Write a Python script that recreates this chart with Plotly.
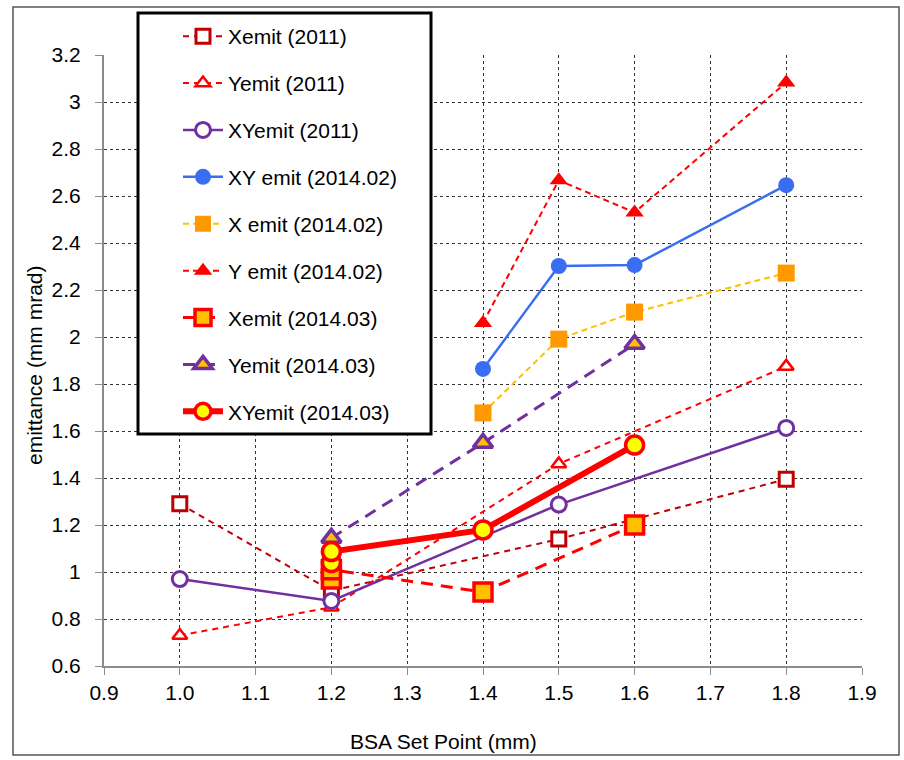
import plotly.graph_objects as go

# ---------------- data ----------------
x_xemit_2011 = [1.0, 1.2, 1.5, 1.8]
y_xemit_2011 = [1.29, 0.92, 1.14, 1.395]

x_yemit_2011 = [1.0, 1.2, 1.5, 1.8]
y_yemit_2011 = [0.73, 0.85, 1.46, 1.875]

x_xyemit_2011 = [1.0, 1.2, 1.5, 1.8]
y_xyemit_2011 = [0.97, 0.877, 1.287, 1.613]

x_xy_1402 = [1.4, 1.5, 1.6, 1.8]
y_xy_1402 = [1.864, 2.302, 2.306, 2.646]

x_x_1402 = [1.4, 1.5, 1.6, 1.8]
y_x_1402 = [1.677, 1.991, 2.106, 2.272]

x_y_1402 = [1.4, 1.5, 1.6, 1.8]
y_y_1402 = [2.06, 2.667, 2.53, 3.083]

x_xemit_1403 = [1.2, 1.2, 1.4, 1.6]
y_xemit_1403 = [0.97, 1.01, 0.915, 1.2]

x_yemit_1403 = [1.2, 1.4, 1.6]
y_yemit_1403 = [1.145, 1.549, 1.97]

x_xyemit_1403 = [1.2, 1.2, 1.4, 1.6]
y_xyemit_1403 = [1.04, 1.087, 1.179, 1.54]

x_ticks = [0.9, 1.0, 1.1, 1.2, 1.3, 1.4, 1.5, 1.6, 1.7, 1.8, 1.9]

FONT = "Liberation Sans, Arial, sans-serif"
FS = 21

fig = go.Figure()

def add(x, y, name, color, width, dash, symbol, size, fill, mline_color, mline_w):
    fig.add_trace(go.Scatter(
        x=x, y=y, name=name, mode="lines+markers", legendgroup=name,
        line=dict(color=color, width=width, dash=dash),
        marker=dict(symbol=symbol, size=size, color=fill,
                    line=dict(color=mline_color, width=mline_w)),
    ))

add(x_xemit_2011, y_xemit_2011, "Xemit (2011)", "#C00000", 2, "6px,5px",
    "square", 14, "white", "#C00000", 3)
add(x_yemit_2011, y_yemit_2011, "Yemit (2011)", "#FF0000", 2, "6px,5px",
    "triangle-up", 13, "white", "#FF0000", 2.5)
add(x_xyemit_2011, y_xyemit_2011, "XYemit (2011)", "#7030A0", 2.5, "solid",
    "circle", 15, "white", "#7030A0", 3)
add(x_xy_1402, y_xy_1402, "XY emit (2014.02)", "#3A6EF2", 2.5, "solid",
    "circle", 16, "#3A6EF2", "#3A6EF2", 0)
add(x_x_1402, y_x_1402, "X emit (2014.02)", "#FFC000", 2, "6px,4px",
    "square", 17, "#FF9900", "#FF9900", 0)
add(x_y_1402, y_y_1402, "Y emit (2014.02)", "#FF0000", 2, "6px,4px",
    "triangle-up", 16, "#FF0000", "#FF0000", 0)
add(x_xemit_1403, y_xemit_1403, "Xemit (2014.03)", "#FF0000", 3, "12px,8px",
    "square", 18, "#FFC000", "#FF0000", 3.5)
add(x_yemit_1403, y_yemit_1403, "Yemit (2014.03)", "#7030A0", 3, "12px,8px",
    "triangle-up", 17, "#FFC000", "#7030A0", 3.5)
add(x_xyemit_1403, y_xyemit_1403, "XYemit (2014.03)", "#FF0000", 6, "solid",
    "circle", 18, "#FFFF00", "#FF0000", 3.5)

# plot area in pixels
L, R, T, B = 104, 862, 55, 666
W, H = 904, 760

def px(xp):
    return (xp - L) / (R - L)

def py(yp):
    return (B - yp) / (B - T)

shapes = [
    # outer chart border
    dict(type="rect", xref="paper", yref="paper",
         x0=px(13), x1=px(899), y0=py(755), y1=py(7),
         line=dict(color="#555555", width=1.5), fillcolor="rgba(0,0,0,0)",
         layer="below"),
    # legend box
    dict(type="rect", xref="paper", yref="paper",
         x0=px(138), x1=px(431), y0=py(434), y1=py(13),
         line=dict(color="black", width=3), fillcolor="white", layer="above"),
]

annotations = [
    dict(text="emittance (mm mrad)", xref="paper", yref="paper",
         x=px(34), y=py(365), xanchor="center", yanchor="middle",
         textangle=-90, showarrow=False,
         font=dict(family=FONT, size=FS, color="black")),
    dict(text="BSA Set Point (mm)", xref="paper", yref="paper",
         x=px(443), y=py(741), xanchor="center", yanchor="middle",
         showarrow=False,
         font=dict(family=FONT, size=FS, color="black")),
]

axis_common = dict(
    showgrid=True, gridcolor="#333333", griddash="dot", gridwidth=1,
    showline=True, linecolor="#8C8C8C", linewidth=2,
    ticks="outside", ticklen=7, tickcolor="#8C8C8C", tickwidth=1,
    zeroline=False, tickfont=dict(family=FONT, size=FS, color="black"),
)

fig.update_layout(
    width=W, height=H,
    margin=dict(l=L, r=W - R, t=T, b=H - B),
    paper_bgcolor="white", plot_bgcolor="white",
    font=dict(family=FONT, size=FS, color="black"),
    xaxis=dict(range=[0.9, 1.9], tickvals=x_ticks, tickformat=".1f", **axis_common),
    yaxis=dict(range=[0.6, 3.2], dtick=0.2, tick0=0.6, ticklabelstandoff=10,
               **axis_common),
    shapes=shapes,
    annotations=annotations,
    showlegend=True,
    legend=dict(
        x=px(178), y=py(16), xanchor="left", yanchor="top",
        bgcolor="rgba(0,0,0,0)", borderwidth=0,
        traceorder="grouped", tracegroupgap=16.6, itemwidth=40,
        maxheight=700,
        font=dict(family=FONT, size=FS, color="black"),
    ),
)

fig.write_html("out.html")
